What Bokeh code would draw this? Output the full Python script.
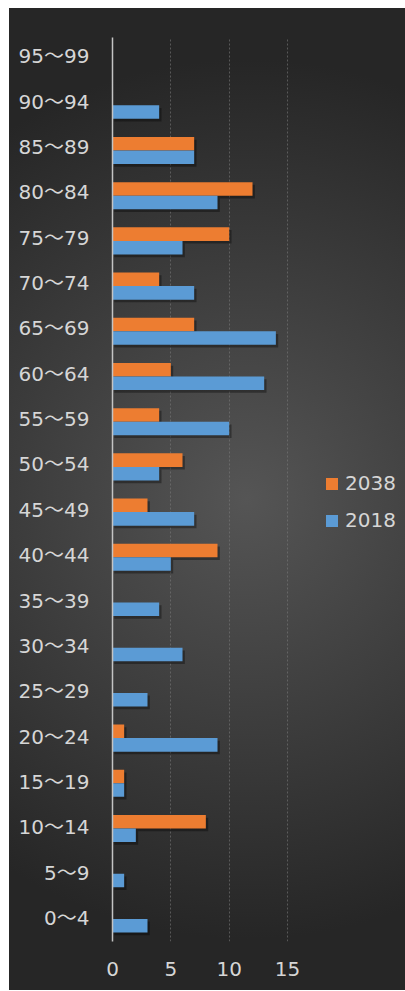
from bokeh.plotting import figure
from bokeh.models import (ColumnDataSource, Range1d, FixedTicker, CDSView,
                          BooleanFilter, LinearAxis, CustomJSTickFormatter)
from bokeh.transform import dodge
from bokeh.embed import file_html
from bokeh.resources import INLINE

# ---- data ----
age_groups = ["0～4", "5～9", "10～14", "15～19", "20～24", "25～29", "30～34", "35～39",
              "40～44", "45～49", "50～54", "55～59", "60～64", "65～69", "70～74", "75～79",
              "80～84", "85～89", "90～94", "95～99"]
values_2038 = [0, 0, 8, 1, 1, 0, 0, 0, 9, 3, 6, 4, 5, 7, 4, 10, 12, 7, 0, 0]
values_2018 = [3, 1, 2, 1, 9, 3, 6, 4, 5, 7, 4, 10, 13, 14, 7, 6, 9, 7, 4, 0]
series_labels = ["2038", "2018"]
x_ticks = [0, 5, 10, 15]

FONT = "'DejaVu Sans', 'Noto Sans CJK JP', sans-serif"
TEXT_COLOR = "#d6d6d6"
ORANGE = "#ED7D31"
BLUE = "#5B9BD5"

n = len(age_groups)
row_pos = [i + 0.5 for i in range(n)]  # category slot centres
src = ColumnDataSource(dict(cat=age_groups, pos=row_pos, v2038=values_2038, v2018=values_2018))

p = figure(width=396, height=982,
           y_range=Range1d(0, n),
           x_range=Range1d(0, 25.11),
           output_backend="svg", toolbar_location=None,
           min_border_left=103, min_border_right=0,
           min_border_top=29, min_border_bottom=49)
p.margin = (8, 0, 0, 9)
p.styles = {"background": "radial-gradient(circle at 60% 50%, #555555 0%, #262626 440px)"}
p.background_fill_alpha = 0
p.border_fill_alpha = 0
p.outline_line_color = None

# shadows
view38 = CDSView(filter=BooleanFilter([v > 0 for v in values_2038]))
view18 = CDSView(filter=BooleanFilter([v > 0 for v in values_2018]))
p.hbar(y=dodge("pos", 0.15 - 0.06), left=0.15, right=dodge("v2038", 0.2),
       height=0.3, source=src, view=view38, fill_color="black", fill_alpha=0.35, line_color=None)
p.hbar(y=dodge("pos", -0.15 - 0.06), left=0.15, right=dodge("v2018", 0.2),
       height=0.3, source=src, view=view18, fill_color="black", fill_alpha=0.35, line_color=None)

p.hbar(y=dodge("pos", 0.15), left=0, right="v2038", height=0.3, source=src,
       fill_color=ORANGE, line_color=None, legend_label=series_labels[0])
p.hbar(y=dodge("pos", -0.15), left=0, right="v2018", height=0.3, source=src,
       fill_color=BLUE, line_color=None, legend_label=series_labels[1])

# axes
p.xaxis.ticker = FixedTicker(ticks=x_ticks)
p.xaxis.axis_line_color = None
p.xaxis.major_tick_line_color = None
p.xaxis.minor_tick_line_color = None
p.xaxis.major_label_standoff = 14
p.xaxis.major_label_text_font = FONT
p.xaxis.major_label_text_font_size = "20px"
p.xaxis.major_label_text_color = TEXT_COLOR

# category label axis (labels spaced like the original, slightly wider than the bar rows)
p.yaxis.visible = False
p.extra_y_ranges = {"lab": Range1d(-0.018, 19.913)}
lab_axis = LinearAxis(y_range_name="lab",
                      ticker=FixedTicker(ticks=row_pos),
                      formatter=CustomJSTickFormatter(args=dict(labels=age_groups),
                                                      code="return labels[Math.round(tick - 0.5)];"))
lab_axis.axis_line_color = "#c4c4c4"
lab_axis.axis_line_width = 1.5
lab_axis.major_tick_line_color = None
lab_axis.minor_tick_line_color = None
lab_axis.major_label_standoff = 17
lab_axis.major_label_text_font = FONT
lab_axis.major_label_text_font_size = "20px"
lab_axis.major_label_text_color = TEXT_COLOR
p.add_layout(lab_axis, "left")

p.ygrid.grid_line_color = None
p.xgrid.grid_line_color = "#7a7a7a"
p.xgrid.grid_line_alpha = 0.6
p.xgrid.grid_line_dash = "2 2"

# legend
lg = p.legend[0]
lg.location = (212, 409)
lg.background_fill_alpha = 0
lg.border_line_color = None
lg.padding = 0
lg.margin = 0
lg.glyph_width = 15
lg.glyph_height = 15
lg.label_standoff = 6
lg.label_height = 20
lg.spacing = 13
lg.label_text_font = FONT
lg.label_text_font_size = "20px"
lg.label_text_color = TEXT_COLOR

open("out.html", "w").write(file_html(p, INLINE))
